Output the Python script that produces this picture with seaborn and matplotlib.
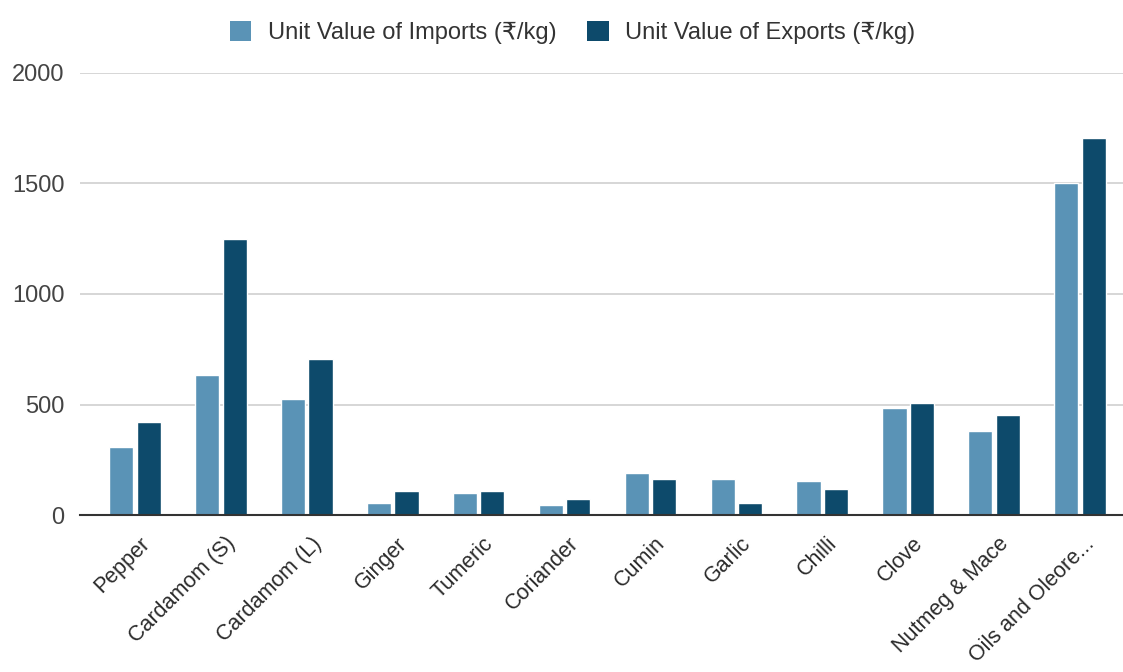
import matplotlib
matplotlib.use("Agg")
import matplotlib.pyplot as plt
import matplotlib.transforms as mtrans
from matplotlib.patches import Patch
import seaborn as sns
import pandas as pd

categories = ["Pepper", "Cardamom (S)", "Cardamom (L)", "Ginger", "Tumeric", "Coriander",
              "Cumin", "Garlic", "Chilli", "Clove", "Nutmeg & Mace", "Oils and Oleore..."]
imports = [308, 633, 525, 54, 100, 45, 190, 163, 154, 484, 380, 1502]
exports = [421, 1249, 706, 109, 109, 72, 163, 54, 118, 507, 452, 1708]
series_names = ["Unit Value of Imports (₹/kg)", "Unit Value of Exports (₹/kg)"]
yticks = [0, 500, 1000, 1500, 2000]

colors = ["#5a93b6", "#0d4a6b"]

df = pd.DataFrame({
    "Category": categories * 2,
    "Series": [series_names[0]] * len(categories) + [series_names[1]] * len(categories),
    "Value": imports + exports,
})

sns.set_theme(style="white")
plt.rcParams["font.family"] = ["Liberation Sans", "DejaVu Sans"]

fig = plt.figure(figsize=(11.23, 6.72), dpi=100)
ax = fig.add_axes([0.0712, 0.2336, 0.9288, 0.6578])

sns.barplot(data=df, x="Category", y="Value", hue="Series", order=categories,
            hue_order=series_names, palette=colors, width=0.64, gap=0.12,
            ax=ax, legend=False, saturation=1)

ax.set_xlim(-0.64, 11.5)
ax.set_ylim(0, 2000)
ax.set_yticks(yticks)
ax.set_yticklabels([str(t) for t in yticks], fontsize=17, color="#444444")
ax.yaxis.grid(True, color="#d0d0d0", linewidth=1.2)
ax.set_axisbelow(True)
for s in ["top", "right", "left"]:
    ax.spines[s].set_visible(False)
ax.spines["bottom"].set_color("#333333")
ax.spines["bottom"].set_linewidth(1.5)
ax.tick_params(axis="y", length=0, pad=11)
ax.tick_params(axis="x", length=0, pad=13)
ax.set_xlabel("")
ax.set_ylabel("")
ax.set_xticks(range(len(categories)))
ax.set_xticklabels(categories, rotation=45, ha="right", rotation_mode="anchor",
                   fontsize=15.5, color="#2a2a2a")
offset = mtrans.ScaledTranslation(4 / 100, 0, fig.dpi_scale_trans)
for lbl in ax.get_xticklabels():
    lbl.set_transform(lbl.get_transform() + offset)

handles = [Patch(facecolor=c, edgecolor="none") for c in colors]
fig.legend(handles, series_names, loc="upper center", bbox_to_anchor=(0.51, 1.0),
           ncol=2, frameon=False, fontsize=17, handlelength=0.9, handleheight=0.9,
           columnspacing=1.3, handletextpad=0.7, labelcolor="#333333")

fig.savefig("out.png", dpi=100, facecolor="white")
